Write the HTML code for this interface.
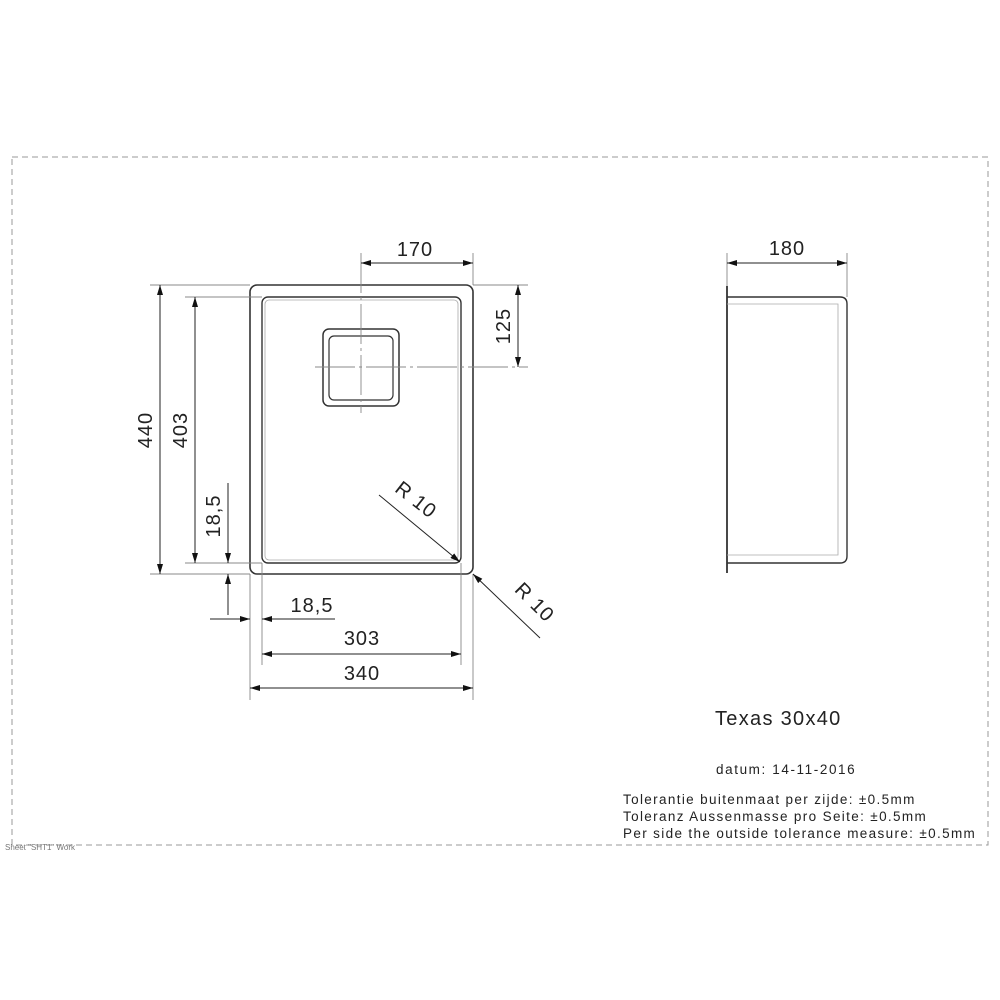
<!DOCTYPE html>
<html><head><style>html,body{margin:0;background:#fff}svg{display:block}text{font-family:"Liberation Sans",sans-serif;fill:#222}</style></head><body>
<svg width="1000" height="1000" viewBox="0 0 1000 1000">
<defs>
<marker id="a" viewBox="0 0 10 6" refX="10" refY="3" markerWidth="14" markerHeight="6" markerUnits="userSpaceOnUse" orient="auto-start-reverse"><path d="M0,0L10,3L0,6z" fill="#111"/></marker>
</defs>
<g fill="none" stroke="#999" stroke-width="1" stroke-dasharray="6,4">
<path d="M12,157H988V845H12Z"/>
</g>
<text x="5" y="850" font-size="8" style="fill:#777">Sheet "SHT1" Work</text>
<g fill="none" stroke="#333">
<rect x="250" y="285" width="223" height="289" rx="7" stroke-width="1.6"/>
<rect x="262" y="297" width="199" height="266" rx="6" stroke-width="1.4"/>
<rect x="265" y="300" width="193" height="260" rx="4" stroke="#aaa" stroke-width="0.8"/>
<rect x="323" y="329" width="76" height="77" rx="6" stroke-width="1.5"/>
<rect x="329" y="336" width="64" height="64" rx="5" stroke-width="1.2"/>
</g>
<g stroke="#888" stroke-width="0.9" fill="none">
<path d="M361,253V413" stroke-dasharray="40,4,3,4"/>
<path d="M315,367H528" stroke-dasharray="40,4,3,4"/>
<path d="M473,253V285M473,285H528M150,285H250M150,574H250M185,297H262M185,563H262M262,563V665M461,563V665M250,574V700M473,574V700M228,574V615"/>
</g>
<g stroke="#222" stroke-width="1" fill="none">
<path d="M361,263H473" marker-start="url(#a)" marker-end="url(#a)"/>
<path d="M518,285V367" marker-start="url(#a)" marker-end="url(#a)"/>
<path d="M160,285V574" marker-start="url(#a)" marker-end="url(#a)"/>
<path d="M195,297V563" marker-start="url(#a)" marker-end="url(#a)"/>
<path d="M228,483V563" marker-end="url(#a)"/>
<path d="M228,615V574" marker-end="url(#a)"/>
<path d="M210,619H250" marker-end="url(#a)"/>
<path d="M335,619H262" marker-end="url(#a)"/>
<path d="M262,654H461" marker-start="url(#a)" marker-end="url(#a)"/>
<path d="M250,688H473" marker-start="url(#a)" marker-end="url(#a)"/>
<path d="M379,495L460,562" marker-end="url(#a)"/>
<path d="M540,638L473,574" marker-end="url(#a)"/>
</g>
<g font-size="20" letter-spacing="1">
<text x="415" y="256" text-anchor="middle">170</text>
<text transform="translate(510,326) rotate(-90)" text-anchor="middle">125</text>
<text transform="translate(152,430) rotate(-90)" text-anchor="middle">440</text>
<text transform="translate(187,430) rotate(-90)" text-anchor="middle">403</text>
<text transform="translate(220,516) rotate(-90)" text-anchor="middle">18,5</text>
<text x="312" y="612" text-anchor="middle">18,5</text>
<text x="362" y="645" text-anchor="middle">303</text>
<text x="362" y="680" text-anchor="middle">340</text>
<text transform="translate(412,505) rotate(38)" text-anchor="middle">R 10</text>
<text transform="translate(530,607) rotate(45)" text-anchor="middle">R 10</text>
<text x="787" y="255" text-anchor="middle">180</text>
</g>
<g fill="none" stroke="#333">
<path d="M727,286V573" stroke-width="1.8"/>
<path d="M727,297H840Q847,297 847,304V556Q847,563 840,563H727" stroke-width="1.4"/>
<path d="M727,304H838V555H727" stroke="#aaa" stroke-width="0.8"/>
</g>
<g stroke="#888" stroke-width="0.9"><path d="M727,253V286M847,253V297"/></g>
<path d="M727,263H847" stroke="#222" marker-start="url(#a)" marker-end="url(#a)"/>
<text x="715" y="725" font-size="20" letter-spacing="1.3">Texas 30x40</text>
<text x="716" y="774" font-size="13.5" letter-spacing="1.6">datum: 14-11-2016</text>
<g font-size="13.5" letter-spacing="1.35">
<text x="623" y="804">Tolerantie buitenmaat per zijde: ±0.5mm</text>
<text x="623" y="821">Toleranz Aussenmasse pro Seite: ±0.5mm</text>
<text x="623" y="838">Per side the outside tolerance measure: ±0.5mm</text>
</g>
</svg>
</body></html>
